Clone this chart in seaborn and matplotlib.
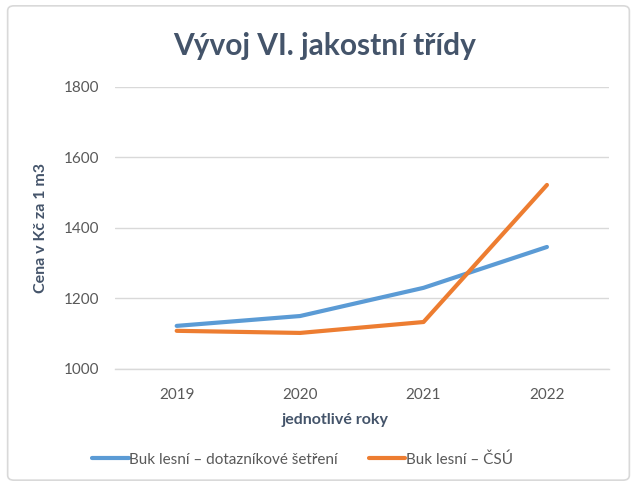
import matplotlib
matplotlib.use("Agg")
import matplotlib.pyplot as plt
import seaborn as sns
import pandas as pd
from matplotlib.patches import FancyBboxPatch
from matplotlib.lines import Line2D

years = ["2019", "2020", "2021", "2022"]
series_names = ["Buk lesní – dotazníkové šetření", "Buk lesní – ČSÚ"]
survey_values = [1122, 1150, 1230, 1346]
csu_values = [1108, 1102, 1133, 1522]
y_ticks = [1000, 1200, 1400, 1600, 1800]

df = pd.DataFrame({
    "rok": years * 2,
    "cena": survey_values + csu_values,
    "serie": [series_names[0]] * 4 + [series_names[1]] * 4,
})
df["pos"] = list(range(len(years))) * 2

sns.set_style("white")
plt.rcParams["font.family"] = ["Lato", "DejaVu Sans"]

fig = plt.figure(figsize=(6.37, 4.86), dpi=100)
ax = fig.add_axes([0.1805, 0.241, 0.775, 0.58])

palette = {series_names[0]: "#5B9BD5", series_names[1]: "#ED7D31"}
sns.lineplot(data=df, x="pos", y="cena", hue="serie", palette=palette,
             linewidth=3, ax=ax, legend=False)

ax.set_xlim(-0.5, len(years) - 0.5)
ax.set_ylim(1000, 1800)
ax.set_yticks(y_ticks)
ax.set_yticklabels([str(t) for t in y_ticks], color="#595959", fontsize=11)
ax.set_xticks(range(len(years)))
ax.set_xticklabels(years, color="#595959", fontsize=11)
ax.tick_params(axis="x", length=0, pad=14)
ax.tick_params(axis="y", length=0, pad=11)
ax.set_xticks([i - 0.5 for i in range(len(years) + 1)], minor=True)
ax.tick_params(axis="x", which="minor", length=5, color="#D9D9D9", width=1)

ax.grid(axis="y", color="#D9D9D9", linewidth=1)
ax.set_axisbelow(True)
for s in ["top", "right", "left"]:
    ax.spines[s].set_visible(False)
ax.spines["bottom"].set_color("#D9D9D9")
ax.spines["bottom"].set_linewidth(1)

ax.set_xlabel("jednotlivé roky", fontsize=11.5, fontweight="bold", color="#44546A")
ax.xaxis.set_label_coords(0.445, -0.158)
ax.set_ylabel("Cena v Kč za 1 m3", fontsize=11.5, fontweight="bold", color="#44546A")
ax.yaxis.set_label_coords(-0.135, 0.5)

fig.text(0.51, 0.905, "Vývoj VI. jakostní třídy", ha="center", va="center",
         fontsize=21.5, fontweight="bold", color="#44546A")

handles = [Line2D([], [], color=palette[n], linewidth=3) for n in series_names]
fig.legend(handles, series_names, loc="center", bbox_to_anchor=(0.475, 0.055),
           ncol=2, frameon=False, fontsize=11, handlelength=2.4, handletextpad=0.05,
           columnspacing=2.0, labelcolor="#595959")

border = FancyBboxPatch((0.012, 0.012), 0.976, 0.976, boxstyle="round,pad=0,rounding_size=0.01",
                        transform=fig.transFigure, fill=False, edgecolor="#D9D9D9", linewidth=1.2)
fig.patches.append(border)

fig.savefig("out.png", dpi=100, facecolor="white")
